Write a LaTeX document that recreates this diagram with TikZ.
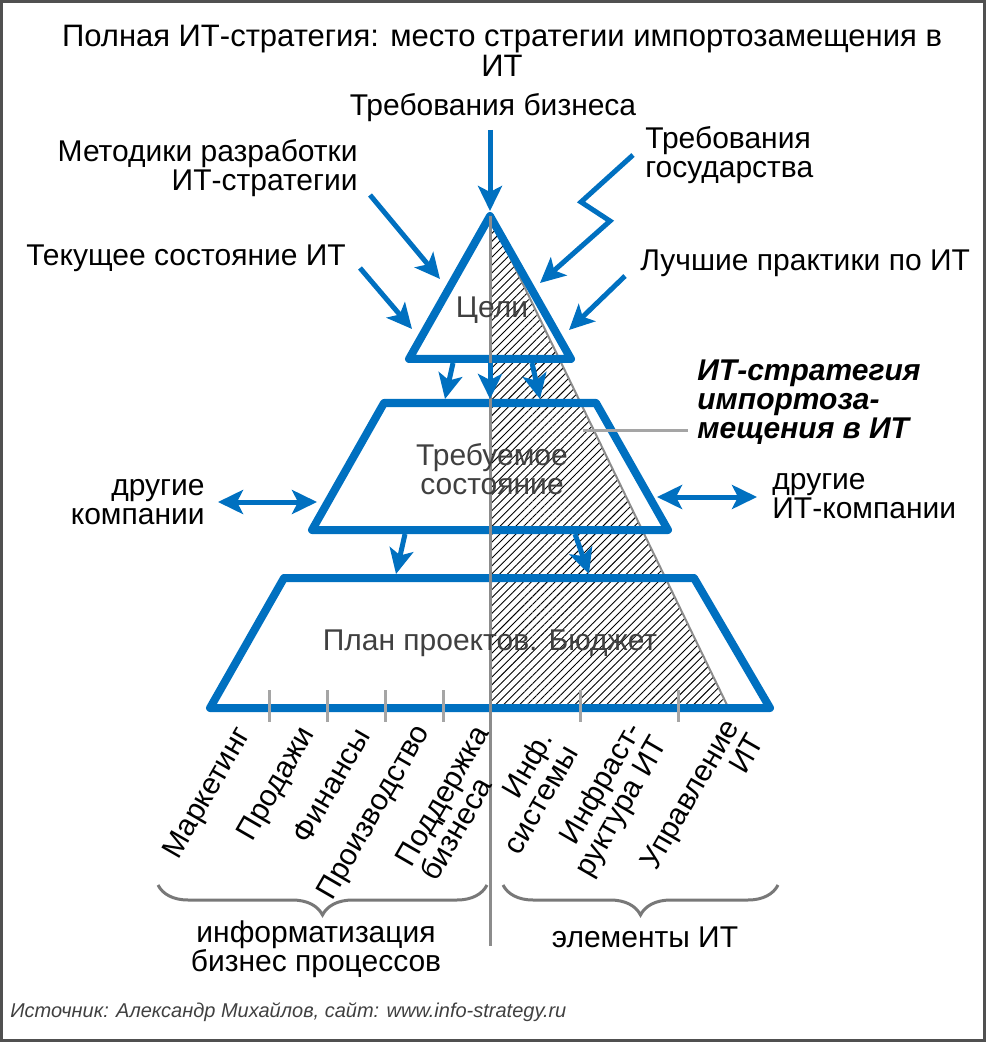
\documentclass[tikz,border=0pt]{standalone}
\usepackage{fontspec}
\setmainfont{Liberation Sans}
\usepackage{xcolor}
\usepackage{tikz}
\usetikzlibrary{arrows.meta, positioning, patterns.meta, decorations.pathreplacing}

\definecolor{itblue}{RGB}{0,112,192}
\definecolor{linegray}{RGB}{140,140,140}
\definecolor{tickgray}{RGB}{165,165,165}
\definecolor{bracecol}{RGB}{120,120,120}
\definecolor{textgray}{RGB}{64,64,64}
\definecolor{framegray}{RGB}{80,80,80}

\begin{document}
\begin{tikzpicture}[x=0.5pt, y=-0.5pt,
  txt/.style={font=\fontsize{15}{14.5}\selectfont, inner sep=0pt, align=center},
  intxt/.style={txt, text=textgray},
  vlbl/.style={txt, rotate=60, anchor=north east, align=right},
  level/.style={draw=itblue, line width=4pt, line join=round},
  arr/.style={draw=itblue, line width=2.5pt, -{Stealth[length=12.5pt, width=12pt, inset=3pt]}},
  darr/.style={arr, {Stealth[length=12.5pt, width=12pt, inset=3pt]}-{Stealth[length=12.5pt, width=12pt, inset=3pt]}},
  axisline/.style={draw=linegray, line width=1.5pt},
  tickline/.style={draw=tickgray, line width=1.5pt},
  bracegray/.style={draw=bracecol, line width=1.5pt, decorate, decoration={brace, mirror, amplitude=15pt}}]

  \useasboundingbox (0,0) rectangle (986,1042);
  \draw[framegray, line width=1.5pt] (1.5,1.5) rectangle (984.5,1040.5);

  % === PYRAMID POINTS ===
  \coordinate (apex) at (490,216);
  \coordinate (g-l) at (409,359);  \coordinate (g-r) at (571,359);
  \coordinate (r-tl) at (384,403); \coordinate (r-tr) at (596,403);
  \coordinate (r-br) at (668,530); \coordinate (r-bl) at (312,530);
  \coordinate (p-tl) at (284,578); \coordinate (p-tr) at (694,578);
  \coordinate (p-br) at (770,708); \coordinate (p-bl) at (210,708);
  \coordinate (hatch-b) at (490,708);
  \coordinate (hatch-br) at (728,707);
  \coordinate (axis-end) at (490,946);

  % Hatched share of import substitution
  \fill[pattern={Lines[angle=45, distance=2.8pt, line width=0.45pt]}]
    (apex) -- (hatch-br) -- (hatch-b) -- cycle;
  \draw[linegray, line width=1pt] (apex) -- (hatch-br);

  % Levels
  \draw[level] (apex) -- (g-r) -- (g-l) -- cycle;
  \draw[level] (r-tl) -- (r-tr) -- (r-br) -- (r-bl) -- cycle;
  \draw[level] (p-tl) -- (p-tr) -- (p-br) -- (p-bl) -- cycle;

  % Divider and ticks
  \draw[axisline] (apex) -- (axis-end);
  \foreach \x in {269,327,385,443,580,678} {
    \draw[tickline] (\x,690) -- (\x,722);
  }

  % === TEXTS ===
  \node[txt, font=\fontsize{15.5}{15}\selectfont] (title) at (502,51)
    {Полная ИТ-стратегия: место стратегии импортозамещения в\\ИТ};
  \node[txt] (bizreq) at (493,108) {Требования бизнеса};
  \node[txt, align=right, anchor=east] (methods) at (358,168) {Методики разработки\\ИТ-стратегии};
  \node[txt] (curstate) at (186,258) {Текущее состояние ИТ};
  \node[txt, align=left, anchor=west] (govreq) at (645,155) {Требования\\государства};
  \node[txt, anchor=west] (bestpr) at (640,263) {Лучшие практики по ИТ};

  \node[intxt] (goals) at (492,310) {Цели};
  \node[intxt] (reqstate) at (492,469) {Требуемое\\состояние};
  \node[intxt] (plan) at (490,643) {План проектов. Бюджет};

  \node[txt, align=right, anchor=east] (othcomp) at (205,502) {другие\\компании};
  \node[txt, align=left, anchor=west] (othit) at (772,496) {другие\\ИТ-компании};
  \node[txt, align=left, anchor=west, font=\fontsize{15}{14.5}\selectfont\bfseries\itshape]
    (impstrat) at (697,402) {ИТ-стратегия\\импортоза-\\мещения в ИТ};

  % Pointer to hatched area
  \coordinate (ptr-a) at (583,430);
  \coordinate (ptr-b) at (688,430);
  \draw[tickline] (ptr-a) -- (ptr-b);

  % === ARROWS ===
  \coordinate (biz-s) at (490,130);  \coordinate (biz-e) at (490,211);
  \coordinate (met-s) at (370,195);  \coordinate (met-e) at (440,279);
  \coordinate (cur-s) at (360,268);  \coordinate (cur-e) at (412,329);
  \coordinate (gov-s) at (633,155);  \coordinate (gov-k1) at (581,202);
  \coordinate (gov-k2) at (610,221); \coordinate (gov-e) at (540,283);
  \coordinate (best-s) at (625,276); \coordinate (best-e) at (569,330);
  \draw[arr] (biz-s) -- (biz-e);
  \draw[arr] (met-s) -- (met-e);
  \draw[arr] (cur-s) -- (cur-e);
  \draw[arr] (gov-s) -- (gov-k1) -- (gov-k2) -- (gov-e);
  \draw[arr] (best-s) -- (best-e);

  % Goals -> required state
  \foreach \i/\xs/\xe in {1/453/445, 2/490/490, 3/532/540} {
    \coordinate (down\i-s) at (\xs,363);
    \coordinate (down\i-e) at (\xe,399);
    \draw[arr] (down\i-s) -- (down\i-e);
  }
  % Required state -> plan
  \foreach \i/\xs/\xe in {4/405/396, 5/575/589} {
    \coordinate (down\i-s) at (\xs,534);
    \coordinate (down\i-e) at (\xe,574);
    \draw[arr] (down\i-s) -- (down\i-e);
  }

  % Exchange with other companies
  \coordinate (ex-l1) at (218,502); \coordinate (ex-l2) at (317,502);
  \coordinate (ex-r1) at (657,497); \coordinate (ex-r2) at (757,497);
  \draw[darr] (ex-l1) -- (ex-l2);
  \draw[darr] (ex-r1) -- (ex-r2);

  % === BOTTOM LABELS ===
  \foreach \n/\x/\y/\t in {mkt/233/723/Маркетинг, sal/297/723/Продажи,
      fin/353/725/Финансы, prod/412/721/Производство,
      infs/535/727/{Инф.\\системы}, infr/624/718/{Инфраст-\\руктура ИТ},
      ctrl/722/716/{Управление\\ИТ}} {
    \node[vlbl] (\n) at (\x,\y) {\t};
  }
  \node[vlbl, align=left] (supp) at (472,722) {Поддержка\\бизнеса};

  % Braces
  \draw[bracegray] (158,885) -- (487,885);
  \draw[bracegray] (503,885) -- (778,885);
  \node[txt] (bizinf) at (316,949) {информатизация\\бизнес процессов};
  \node[txt] (itelem) at (645,937) {элементы ИТ};

  \node[txt, anchor=west, text=textgray, font=\fontsize{10}{12}\selectfont\itshape]
    (srcnote) at (10,1012) {Источник: Александр Михайлов, сайт: www.info-strategy.ru};
\end{tikzpicture}
\end{document}
